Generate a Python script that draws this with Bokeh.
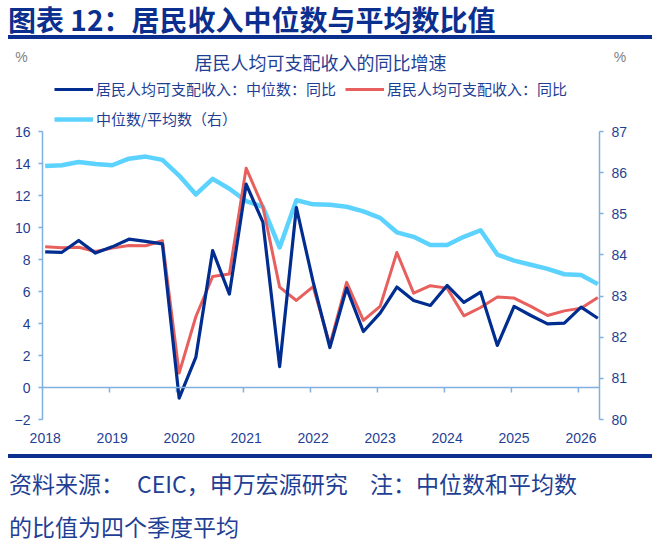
from bokeh.plotting import figure
from bokeh.models import (Range1d, LinearAxis, FixedTicker, Span, Legend, LegendItem, Div)
from bokeh.layouts import column
from bokeh.embed import file_html
from bokeh.resources import INLINE

# ---- data: quarterly, 2018Q1 .. 2026Q2 ----
year_labels = ["2018", "2019", "2020", "2021", "2022", "2023", "2024", "2025", "2026"]
median_yoy = [8.48, 8.45, 9.19, 8.40, 8.79, 9.27, 9.13, 8.98,
              -0.66, 1.90, 8.56, 5.84, 12.71, 10.34, 1.31, 11.25,
              6.60, 2.50, 6.21, 3.50, 4.65, 6.28, 5.44, 5.13, 6.38, 5.32,
              5.96, 2.63, 5.07, 4.50, 3.98, 4.02, 5.02, 4.33]
mean_yoy = [8.79, 8.73, 8.77, 8.50, 8.71, 8.88, 8.86, 9.17,
            0.90, 4.44, 6.94, 7.10, 13.71, 11.31, 6.27, 5.44,
            6.31, 2.67, 6.57, 4.19, 5.07, 8.44, 5.90, 6.36, 6.21, 4.48,
            5.00, 5.65, 5.59, 5.07, 4.50, 4.79, 4.96, 5.63]
ratio = [86.16, 86.18, 86.26, 86.21, 86.18, 86.34, 86.39, 86.31,
         85.93, 85.47, 85.85, 85.61, 85.31, 85.17, 84.18, 85.33,
         85.23, 85.22, 85.17, 85.06, 84.90, 84.55, 84.44, 84.24, 84.24, 84.44,
         84.60, 84.01, 83.86, 83.76, 83.66, 83.53, 83.51, 83.29]
left_ticks = [-2, 0, 2, 4, 6, 8, 10, 12, 14, 16]
right_ticks = [80, 81, 82, 83, 84, 85, 86, 87]

xs = list(range(len(median_yoy)))

NAVY = "#0b2f8f"
TXT = "#1f3f95"
AXC = "#7fb0e0"
CJK = "Noto Sans CJK SC"

TOP_H = 72
FIG_H = 382
FRAME_BOTTOM = 419          # page y of the -2 / 80 level
FRAME_H = FRAME_BOTTOM - TOP_H
PX_L = 16.0                 # px per unit, left axis
PX_R = (FRAME_BOTTOM - 131) / 7.0

p = figure(width=661, height=FIG_H, output_backend="svg", toolbar_location=None,
           x_range=Range1d(-0.16, 33.1),
           y_range=Range1d(left_ticks[0], left_ticks[0] + FRAME_H / PX_L),
           min_border_left=42, min_border_right=62, min_border_top=0,
           min_border_bottom=TOP_H + FIG_H - FRAME_BOTTOM, margin=0)
p.outline_line_color = None
p.xgrid.grid_line_color = None
p.ygrid.grid_line_color = None
p.background_fill_color = "white"
p.border_fill_color = "white"

# left axis
ya = p.yaxis[0]
ya.ticker = FixedTicker(ticks=left_ticks)
ya.bounds = (left_ticks[0], left_ticks[-1])
ya.axis_line_color = AXC
ya.axis_line_width = 1.5
ya.major_tick_line_color = AXC
ya.major_tick_line_width = 1.5
ya.major_tick_out = 4
ya.major_tick_in = 0
ya.minor_tick_line_color = None
ya.major_label_standoff = 8
ya.major_label_text_font = "Liberation Sans"
ya.major_label_text_font_size = "14px"
ya.major_label_text_color = TXT

# right axis
p.extra_y_ranges = {"r": Range1d(right_ticks[0], right_ticks[0] + FRAME_H / PX_R)}
ra = LinearAxis(y_range_name="r", ticker=FixedTicker(ticks=right_ticks),
                bounds=(right_ticks[0], right_ticks[-1]))
ra.axis_line_color = AXC
ra.axis_line_width = 1.5
ra.major_tick_line_color = AXC
ra.major_tick_line_width = 1.5
ra.major_tick_out = 4
ra.major_tick_in = 0
ra.minor_tick_line_color = None
ra.major_label_standoff = 8
ra.major_label_text_font = "Liberation Sans"
ra.major_label_text_font_size = "14px"
ra.major_label_text_color = TXT
p.add_layout(ra, "right")

# x axis (labels at bottom, line at zero)
label_pos = [4 * k for k in range(len(year_labels))]
xa = p.xaxis[0]
xa.ticker = FixedTicker(ticks=label_pos)
xa.major_label_overrides = {pos: lab for pos, lab in zip(label_pos, year_labels)}
xa.axis_line_color = None
xa.major_tick_line_color = None
xa.minor_tick_line_color = None
xa.major_label_standoff = 7
xa.major_label_text_font = "Liberation Sans"
xa.major_label_text_font_size = "14px"
xa.major_label_text_color = TXT

p.add_layout(Span(location=0, dimension="width", line_color=AXC, line_width=1.5))
tick_x = [pos - 0.16 for pos in label_pos[1:]]
p.segment(x0=tick_x, y0=[0] * len(tick_x), x1=tick_x, y1=[-0.31] * len(tick_x),
          line_color=AXC, line_width=1.5)

# series
r_ratio = p.line(xs, ratio, y_range_name="r", line_color="#5cd2ff", line_width=4.5,
                 line_join="round")
r_mean = p.line(xs, mean_yoy, line_color="#e8605e", line_width=3, line_join="round")
r_med = p.line(xs, median_yoy, line_color="#002d8f", line_width=3.2, line_join="round")

legend = Legend(items=[
    LegendItem(label="居民人均可支配收入：中位数：同比", renderers=[r_med]),
    LegendItem(label="居民人均可支配收入：同比", renderers=[r_mean]),
    LegendItem(label="中位数/平均数（右）", renderers=[r_ratio]),
], orientation="horizontal", ncols=2, location=(12, FRAME_BOTTOM - 129), margin=0,
    padding=0, border_line_color=None, background_fill_alpha=0, glyph_width=39,
    glyph_height=20, label_height=20, label_standoff=3, spacing=9,
    label_text_font=CJK, label_text_font_size="15px", label_text_color=TXT)
p.add_layout(legend, "center")


def txt(text, left, center_y, size, color, width=None, align="left", bold=False,
        font=CJK):
    w = f"width:{width}px;" if width else ""
    return (f'<div style="position:absolute;left:{left}px;top:{center_y - size / 2}px;'
            f'{w}text-align:{align};font-family:\'{font}\';font-size:{size}px;'
            f'line-height:{size}px;color:{color};font-weight:{700 if bold else 400};'
            f'white-space:nowrap;">{text}</div>')


def rule(top, height=3.5):
    return (f'<div style="position:absolute;left:8px;top:{top}px;width:644px;'
            f'height:{height}px;background:{NAVY};"></div>')


top_html = ('<div style="position:relative;width:661px;height:%dpx;">' % TOP_H
            + txt("图表 12：居民收入中位数与平均数比值", 8, 18.5, 28, NAVY, bold=True)
            + rule(35)
            + txt("%", 11.5, 57, 14, "#808080", width=20, align="center",
                  font="Liberation Sans")
            + txt("%", 610, 57, 14, "#808080", width=20, align="center",
                  font="Liberation Sans")
            + txt("居民人均可支配收入的同比增速", 120.5, 62, 18, TXT, width=400,
                  align="center")
            + '</div>')

FOOT_TOP = TOP_H + FIG_H
bot_html = ('<div style="position:relative;width:661px;height:%dpx;">' % (543 - FOOT_TOP)
            + rule(454.2 - FOOT_TOP)
            + txt("资料来源：", 9, 483.5 - FOOT_TOP, 23, TXT)
            + txt("CEIC，申万宏源研究", 137, 483.5 - FOOT_TOP, 23, TXT)
            + txt("注：中位数和平均数", 370, 483.5 - FOOT_TOP, 23, TXT)
            + txt("的比值为四个季度平均", 9, 526 - FOOT_TOP, 23, TXT)
            + '</div>')

top_div = Div(text=top_html, width=661, height=TOP_H, margin=0,
              styles={"overflow": "visible"})
bot_div = Div(text=bot_html, width=661, height=543 - FOOT_TOP, margin=0,
              styles={"overflow": "visible"})

layout = column(top_div, p, bot_div, spacing=0, margin=0)

open("out.html", "w").write(file_html(layout, INLINE))
